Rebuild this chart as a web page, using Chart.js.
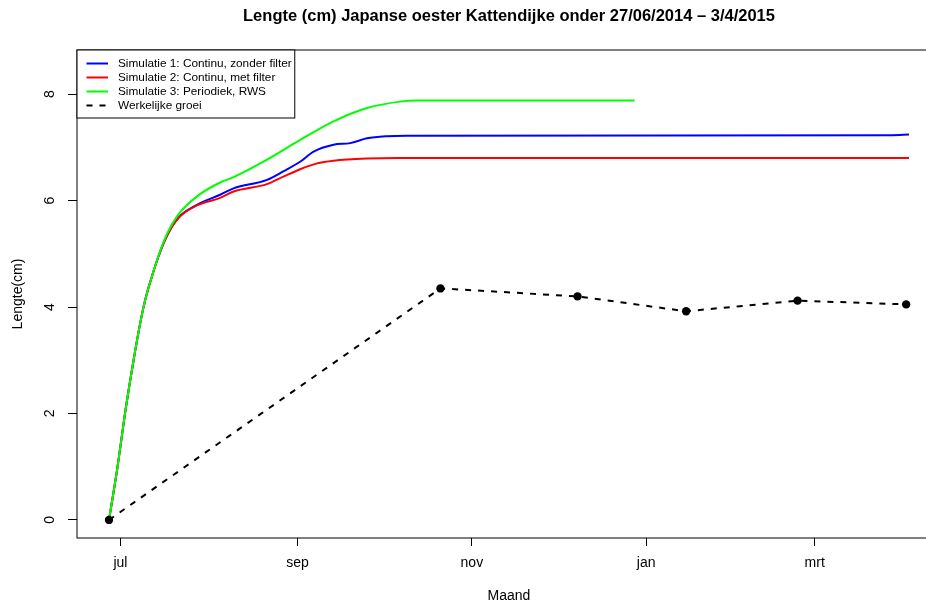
<!DOCTYPE html>
<html>
<head>
<meta charset="utf-8">
<script src="https://cdn.jsdelivr.net/npm/chart.js@4.4.1/dist/chart.umd.min.js"></script>
<style>
  html, body { margin: 0; padding: 0; overflow: hidden; background: #fff; }
</style>
</head>
<body>
<canvas id="chart1" width="960" height="605"></canvas>
<script>
// x values are days counted from 1 jul 2014
var chartTitle = 'Lengte (cm) Japanse oester Kattendijke onder 27/06/2014 \u2013 3/4/2015';
var tickDays = [0, 62, 123, 184, 243];
var tickLabels = ['jul', 'sep', 'nov', 'jan', 'mrt'];
var yTicks = [0, 2, 4, 6, 8];

var sim1Days   = [-4, -1, 1.6, 4.6, 6.3, 8, 9.5, 11, 13.3, 16.2, 20.3, 26.8, 34.9, 39.6, 51.3, 57, 62.9, 67.6, 74.6, 80.4, 86.3, 93.3, 100, 270, 276];
var sim1Values = [0, 1.0, 2.0, 3.0, 3.52, 3.98, 4.3, 4.57, 4.95, 5.33, 5.68, 5.92, 6.11, 6.23, 6.39, 6.55, 6.73, 6.92, 7.05, 7.08, 7.17, 7.21, 7.22, 7.23, 7.24];

var sim2Days   = [-4, -1, 1.6, 4.6, 6.3, 8, 9.5, 11, 13.3, 16.2, 20.3, 26.8, 34.9, 39.6, 51.3, 57, 62.9, 68.8, 74.6, 86.3, 97.9, 276];
var sim2Values = [0, 1.0, 2.0, 3.0, 3.52, 3.98, 4.3, 4.57, 4.95, 5.33, 5.67, 5.91, 6.05, 6.17, 6.31, 6.45, 6.59, 6.70, 6.75, 6.79, 6.80, 6.80];

var sim3Days   = [-4, -1, 1.6, 4.6, 6.3, 8, 9.5, 11, 13.3, 16.2, 20.3, 26.8, 34.9, 39.6, 51.3, 62.9, 74.6, 86.3, 97.9, 103.8, 180];
var sim3Values = [0, 1.0, 2.0, 3.0, 3.52, 3.98, 4.3, 4.57, 4.96, 5.36, 5.74, 6.08, 6.34, 6.44, 6.77, 7.14, 7.49, 7.74, 7.86, 7.88, 7.88];

var obsDays   = [-4, 112, 160, 198, 237, 275];
var obsValues = [0, 4.35, 4.20, 3.92, 4.12, 4.05];

function toPoints(xs, ys) {
    return xs.map(function (x, i) { return { x: x, y: ys[i] }; });
}

Chart.defaults.font.family = '"Liberation Sans", Arial, Helvetica, sans-serif';
Chart.defaults.color = '#000';

// R style box, legend and main title
var rDecor = {
    id: 'rDecor',
    afterDraw: function (chart) {
        var ctx = chart.ctx, a = chart.chartArea;
        ctx.save();
        ctx.strokeStyle = '#000';
        ctx.lineWidth = 1;
        ctx.strokeRect(a.left, a.top, a.right - a.left, a.bottom - a.top);

        ctx.fillStyle = '#000';
        ctx.font = 'bold 16.5px "Liberation Sans", Arial, sans-serif';
        ctx.textAlign = 'center';
        ctx.textBaseline = 'middle';
        ctx.fillText(chartTitle, (a.left + a.right) / 2, 16);

        // legend
        ctx.font = '11.8px "Liberation Sans", Arial, sans-serif';
        ctx.textAlign = 'left';
        var ds = chart.data.datasets;
        var textX = a.left + 41;
        var maxW = 0;
        ds.forEach(function (d) { maxW = Math.max(maxW, ctx.measureText(d.label).width); });
        ctx.fillStyle = '#fff';
        ctx.fillRect(a.left, a.top, textX + maxW + 3 - a.left, 68);
        ctx.strokeRect(a.left, a.top, textX + maxW + 3 - a.left, 68);
        ds.forEach(function (d, i) {
            var y = a.top + 13.5 + i * 14;
            ctx.beginPath();
            ctx.setLineDash(d.borderDash || []);
            ctx.strokeStyle = d.borderColor;
            ctx.lineWidth = 2;
            ctx.moveTo(a.left + 9.5, y);
            ctx.lineTo(a.left + 31, y);
            ctx.stroke();
            ctx.setLineDash([]);
            ctx.fillStyle = '#000';
            ctx.fillText(d.label, textX, y);
        });
        ctx.restore();
    }
};

var ctx = document.getElementById('chart1').getContext('2d');
var chart1 = new Chart(ctx, {
    type: 'line',
    data: {
        datasets: [{
            label: 'Simulatie 1: Continu, zonder filter',
            data: toPoints(sim1Days, sim1Values),
            borderColor: '#0000ff',
            borderWidth: 2,
            pointRadius: 0,
            cubicInterpolationMode: 'monotone',
            fill: false,
            order: 4
        }, {
            label: 'Simulatie 2: Continu, met filter',
            data: toPoints(sim2Days, sim2Values),
            borderColor: '#ff0000',
            borderWidth: 2,
            pointRadius: 0,
            cubicInterpolationMode: 'monotone',
            fill: false,
            order: 3
        }, {
            label: 'Simulatie 3: Periodiek, RWS',
            data: toPoints(sim3Days, sim3Values),
            borderColor: '#00ff00',
            borderWidth: 2,
            pointRadius: 0,
            cubicInterpolationMode: 'monotone',
            fill: false,
            order: 2
        }, {
            label: 'Werkelijke groei',
            data: toPoints(obsDays, obsValues),
            borderColor: '#000',
            backgroundColor: '#000',
            borderWidth: 2,
            borderDash: [6, 7],
            pointRadius: 4.2,
            pointBorderWidth: 0,
            pointBackgroundColor: '#000',
            tension: 0,
            fill: false,
            order: 1
        }]
    },
    options: {
        responsive: false,
        animation: false,
        layout: { padding: { top: 50, right: 19, bottom: 0, left: 0 } },
        plugins: {
            legend: { display: false },
            title: { display: false },
            tooltip: { enabled: false }
        },
        scales: {
            x: {
                type: 'linear',
                min: -15.2,
                max: 287.2,
                afterBuildTicks: function (s) { s.ticks = tickDays.map(function (v) { return { value: v }; }); },
                afterFit: function (s) { s.height = 67; },
                grid: { drawOnChartArea: false, drawTicks: true, tickLength: 8, color: '#000' },
                border: { display: false },
                ticks: {
                    font: { size: 14 },
                    padding: 9,
                    maxRotation: 0,
                    autoSkip: false,
                    callback: function (v, i) { return tickLabels[i]; }
                },
                title: { display: true, text: 'Maand', font: { size: 14 }, padding: { top: 0, bottom: 0 } }
            },
            y: {
                min: -0.34,
                max: 8.83,
                afterBuildTicks: function (s) { s.ticks = yTicks.map(function (v) { return { value: v }; }); },
                afterFit: function (s) { s.width = 77; },
                grid: { drawOnChartArea: false, drawTicks: true, tickLength: 9, color: '#000' },
                border: { display: false },
                ticks: {
                    font: { size: 14 },
                    minRotation: 90,
                    maxRotation: 90,
                    crossAlign: 'center',
                    padding: 13.5,
                    callback: function (v) { return String(v); }
                },
                title: { display: true, text: 'Lengte(cm)', font: { size: 14 }, padding: { top: 10, bottom: 0 } }
            }
        }
    },
    plugins: [rDecor]
});
</script>
</body>
</html>
